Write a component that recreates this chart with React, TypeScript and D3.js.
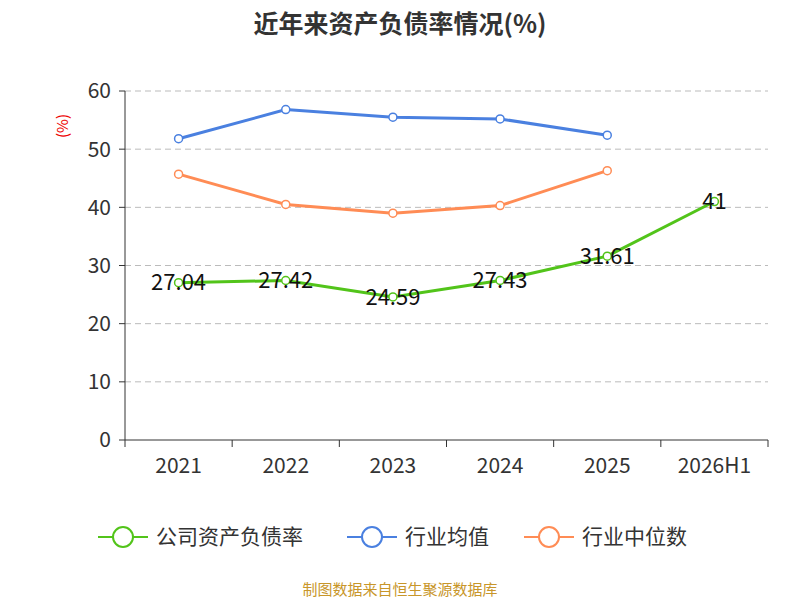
import * as d3 from 'd3';

const categories = ['2021', '2022', '2023', '2024', '2025', '2026H1'];
const company = [27.04, 27.42, 24.59, 27.43, 31.61, 41];
const industryAvg = [51.8, 56.8, 55.5, 55.2, 52.4];
const industryMedian = [45.7, 40.5, 39.0, 40.3, 46.3];
const yTicks = [0, 10, 20, 30, 40, 50, 60];

const series = [
  { name: '公司资产负债率', color: '#52c41a', data: company, labels: true },
  { name: '行业均值', color: '#4a80e0', data: industryAvg, labels: false },
  { name: '行业中位数', color: '#ff8c55', data: industryMedian, labels: false },
];

export default function App() {
  const left = 125, right = 768, top = 91, bottom = 440;
  const x = d3.scaleBand().domain(categories).range([left, right]);
  const y = d3.scaleLinear().domain([0, 60]).range([bottom, top]);
  const cx = (i: number) => x(categories[i])! + x.bandwidth() / 2;
  const line = d3.line<number>().x((_, i) => cx(i)).y((d) => y(d));
  const font = '"Noto Sans CJK SC", "Noto Sans", sans-serif';

  return (
    <svg width={800} height={600} style={{ position: 'absolute', left: 0, top: 0 }} fontFamily={font}>
      <rect width={800} height={600} fill="#fff" />
      <text x={400} y={33} textAnchor="middle" fontSize={25} fontWeight="bold" fill="#333">近年来资产负债率情况(%)</text>
      <text x={68} y={126} fontSize={15} fill="#e00" textAnchor="middle" transform="rotate(-90 68 126)">(%)</text>
      {yTicks.map((t) => (
        <g key={t}>
          {t > 0 && <line x1={left} x2={right} y1={y(t)} y2={y(t)} stroke="#bbb" strokeDasharray="6,4" />}
          <line x1={left - 6} x2={left} y1={y(t)} y2={y(t)} stroke="#333" />
          <text x={left - 14} y={y(t)} dy="0.35em" textAnchor="end" fontSize={21} fill="#333">{t}</text>
        </g>
      ))}
      <line x1={left} x2={left} y1={top} y2={bottom} stroke="#333" />
      <line x1={left} x2={right} y1={bottom} y2={bottom} stroke="#333" />
      {d3.range(categories.length + 1).map((i) => {
        const xx = left + i * x.bandwidth();
        return <line key={i} x1={xx} x2={xx} y1={bottom} y2={bottom + 7} stroke="#333" />;
      })}
      {categories.map((c, i) => (
        <text key={c} x={cx(i)} y={473} textAnchor="middle" fontSize={21} fill="#333">{c}</text>
      ))}
      {series.map((s) => (
        <g key={s.name}>
          <path d={line(s.data) || ''} fill="none" stroke={s.color} strokeWidth={3} />
          {s.data.map((d, i) => (
            <circle key={i} cx={cx(i)} cy={y(d)} r={4} fill="#fff" stroke={s.color} strokeWidth={1.5} />
          ))}
          {s.labels && s.data.map((d, i) => (
            <text key={'l' + i} x={cx(i)} y={y(d)} dy="0.35em" textAnchor="middle" fontSize={22} fill="#111">{d}</text>
          ))}
        </g>
      ))}
      {series.map((s, i) => {
        const lx = [98, 347, 524][i];
        return (
          <g key={s.name}>
            <line x1={lx} x2={lx + 50} y1={537} y2={537} stroke={s.color} strokeWidth={2} />
            <circle cx={lx + 25} cy={537} r={10} fill="#fff" stroke={s.color} strokeWidth={2} />
            <text x={lx + 58} y={537} dy="0.35em" fontSize={21} fill="#333">{s.name}</text>
          </g>
        );
      })}
      <text x={400} y={595} textAnchor="middle" fontSize={15} fill="#c8962a">制图数据来自恒生聚源数据库</text>
    </svg>
  );
}
